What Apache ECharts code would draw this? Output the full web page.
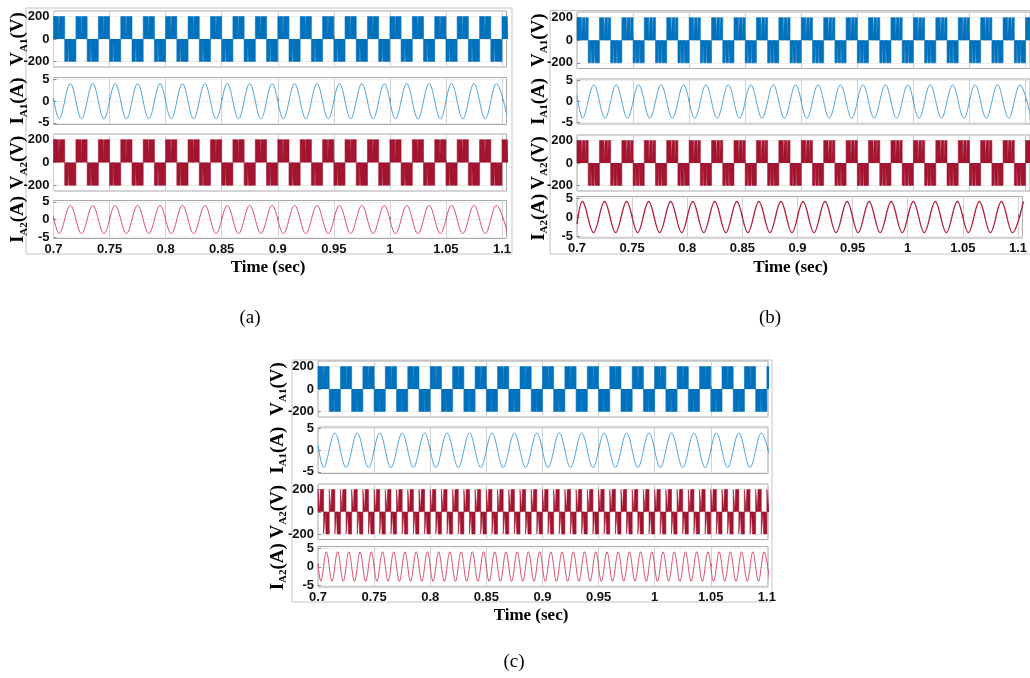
<!DOCTYPE html>
<html><head><meta charset="utf-8">
<script src="https://cdn.jsdelivr.net/npm/echarts@6/dist/echarts.min.js"></script>
<style>html,body{margin:0;padding:0;background:#fff}#c{width:1030px;height:678px}</style>
</head><body><div id="c"></div>
<script>
// ---------- tick labels ----------
const xTicks = [0.7,0.75,0.8,0.85,0.9,0.95,1,1.05,1.1];
const vTicks = [-200,0,200];
const iTicks = [-5,0,5];

// ---------- PWM voltage: half-cycle boundaries (s) ----------
const halfEdges50 = [0.70,0.71,0.72,0.73,0.74,0.75,0.76,0.77,0.78,0.79,
  0.80,0.81,0.82,0.83,0.84,0.85,0.86,0.87,0.88,0.89,
  0.90,0.91,0.92,0.93,0.94,0.95,0.96,0.97,0.98,0.99,
  1.00,1.01,1.02,1.03,1.04,1.05,1.06,1.07,1.08,1.09,1.10,1.11];
const halfEdges100 = [0.700,0.705,0.710,0.715,0.720,0.725,0.730,0.735,0.740,0.745,
  0.750,0.755,0.760,0.765,0.770,0.775,0.780,0.785,0.790,0.795,
  0.800,0.805,0.810,0.815,0.820,0.825,0.830,0.835,0.840,0.845,
  0.850,0.855,0.860,0.865,0.870,0.875,0.880,0.885,0.890,0.895,
  0.900,0.905,0.910,0.915,0.920,0.925,0.930,0.935,0.940,0.945,
  0.950,0.955,0.960,0.965,0.970,0.975,0.980,0.985,0.990,0.995,
  1.000,1.005,1.010,1.015,1.020,1.025,1.030,1.035,1.040,1.045,
  1.050,1.055,1.060,1.065,1.070,1.075,1.080,1.085,1.090,1.095,1.100,1.105];
const vLevel = [200, 200, 200, 200, 200, 200]; // a-VA1, a-VA2, b-VA1, b-VA2, c-VA1, c-VA2
// pulse pattern inside one half-cycle (fractions of the half-cycle), [start,end]
const pulsesA_pos = [[0,0.45],[0.52,1]];
const pulsesA_neg = [[0,0.3],[0.38,1]];
const pulsesB_pos = [[0,0.4],[0.5,0.72],[0.8,1]];
const pulsesB_neg = [[0,0.22],[0.3,0.52],[0.6,1]];
const pulsesC1_pos = [[0,0.5],[0.56,1]];
const pulsesC1_neg = [[0,0.45],[0.5,1]];
const pulsesC2_pos = [[0,0.3],[0.42,1]];
const pulsesC2_neg = [[0,0.3],[0.42,1]];

// ---------- currents: start point + extrema (time, value) ----------
const t50 = [0.7,0.705,0.715,0.725,0.735,0.745,0.755,0.765,0.775,0.785,0.795,
  0.805,0.815,0.825,0.835,0.845,0.855,0.865,0.875,0.885,0.895,
  0.905,0.915,0.925,0.935,0.945,0.955,0.965,0.975,0.985,0.995,
  1.005,1.015,1.025,1.035,1.045,1.055,1.065,1.075,1.085,1.095,1.105];
const t100 = [0.7,
  0.7025,0.7075,0.7125,0.7175,0.7225,0.7275,0.7325,0.7375,0.7425,0.7475,
  0.7525,0.7575,0.7625,0.7675,0.7725,0.7775,0.7825,0.7875,0.7925,0.7975,
  0.8025,0.8075,0.8125,0.8175,0.8225,0.8275,0.8325,0.8375,0.8425,0.8475,
  0.8525,0.8575,0.8625,0.8675,0.8725,0.8775,0.8825,0.8875,0.8925,0.8975,
  0.9025,0.9075,0.9125,0.9175,0.9225,0.9275,0.9325,0.9375,0.9425,0.9475,
  0.9525,0.9575,0.9625,0.9675,0.9725,0.9775,0.9825,0.9875,0.9925,0.9975,
  1.0025,1.0075,1.0125,1.0175,1.0225,1.0275,1.0325,1.0375,1.0425,1.0475,
  1.0525,1.0575,1.0625,1.0675,1.0725,1.0775,1.0825,1.0875,1.0925,1.0975,
  1.1025];
const iA1_a = [0.6,-4.1,4,-4.1,4,-4.1,4,-4.1,4,-4.1,4, -4.1,4,-4.1,4,-4.1,4,-4.1,4,-4.1,4,
  -4.1,4,-4.1,4,-4.1,4,-4.1,4,-4.1,4, -4.1,4,-4.1,4,-4.1,4,-4.1,4,-4.1,4, -4.1];
const iA2_a = [0.8,-4,4,-4,4,-4,4,-4,4,-4,4, -4,4,-4,4,-4,4,-4,4,-4,4,
  -4,4,-4,4,-4,4,-4,4,-4,4, -4,4,-4,4,-4,4,-4,4,-4,4, -4];
const iA1_b = [1.5,-4,4,-4,4,-4,4,-4,4,-4,4, -4,4,-4,4,-4,4,-4,4,-4,4,
  -4,4,-4,4,-4,4,-4,4,-4,4, -4,4,-4,4,-4,4,-4,4,-4,4, -4];
const iA2_b = [-1.8,4.1,-4,4.1,-4,4.1,-4,4.1,-4,4.1,-4, 4.1,-4,4.1,-4,4.1,-4,4.1,-4,4.1,-4,
  4.1,-4,4.1,-4,4.1,-4,4.1,-4,4.1,-4, 4.1,-4,4.1,-4,4.1,-4,4.1,-4,4.1,-4, 4.1];
const iA1_c = [1.2,-4,4,-4,4,-4,4,-4,4,-4,4, -4,4,-4,4,-4,4,-4,4,-4,4,
  -4,4,-4,4,-4,4,-4,4,-4,4, -4,4,-4,4,-4,4,-4,4,-4,4, -4];
const iA2_c = [0.8,
  -3.9,4,-3.9,4,-3.9,4,-3.9,4,-3.9,4, -3.9,4,-3.9,4,-3.9,4,-3.9,4,-3.9,4,
  -3.9,4,-3.9,4,-3.9,4,-3.9,4,-3.9,4, -3.9,4,-3.9,4,-3.9,4,-3.9,4,-3.9,4,
  -3.9,4,-3.9,4,-3.9,4,-3.9,4,-3.9,4, -3.9,4,-3.9,4,-3.9,4,-3.9,4,-3.9,4,
  -3.9,4,-3.9,4,-3.9,4,-3.9,4,-3.9,4, -3.9,4,-3.9,4,-3.9,4,-3.9,4,-3.9,4,
  -3.9];

// ---------- helpers ----------
function pwmData(edges, firstSign, posPat, negPat, level) {
  const d = [];
  for (let i = 0; i < edges.length - 1; i++) {
    const a = edges[i], b = edges[i + 1], w = b - a;
    const sign = (i % 2 === 0) ? firstSign : -firstSign;
    const pat = sign > 0 ? posPat : negPat;
    for (const p of pat) {
      const s = a + p[0] * w, e = a + p[1] * w;
      d.push([s, 0], [s, sign * level], [e, sign * level], [e, 0]);
    }
  }
  return d;
}
function zip(t, v) { return t.map((x, i) => [x, v[i]]); }

const BLUE = '#0072BD', LBLUE = '#4FA3E0', RED = '#A2142F', LRED = '#D9506C';
const serif = 'Liberation Serif', sans = 'Liberation Sans';

const panels = [
  { left: 53.5, width: 453, xMax: 1.104, gap: 24,
    rows: [
      { top: 11, height: 56, kind: 'v', sub: 'A1', color: BLUE, data: pwmData(halfEdges50, 1, pulsesA_pos, pulsesA_neg, vLevel[0]) },
      { top: 77.5, height: 47, kind: 'i', sub: 'A1', color: LBLUE, lw: 1, data: zip(t50, iA1_a) },
      { top: 134, height: 57, kind: 'v', sub: 'A2', color: RED, data: pwmData(halfEdges50, 1, pulsesA_pos, pulsesA_neg, vLevel[1]) },
      { top: 200.5, height: 38, kind: 'i', sub: 'A2', color: LRED, lw: 1, data: zip(t50, iA2_a) }
    ]},
  { left: 577, width: 453, xMax: 1.104, gap: 27,
    rows: [
      { top: 12, height: 56.5, kind: 'v', sub: 'A1', color: BLUE, data: pwmData(halfEdges50, 1, pulsesB_pos, pulsesB_neg, vLevel[2]) },
      { top: 79, height: 45, kind: 'i', sub: 'A1', color: LBLUE, lw: 1, data: zip(t50, iA1_b) },
      { top: 135, height: 56, kind: 'v', sub: 'A2', color: RED, data: pwmData(halfEdges50, 1, pulsesB_pos, pulsesB_neg, vLevel[3]) },
      { top: 196.5, height: 41.5, kind: 'i', sub: 'A2', color: '#B01E3C', lw: 1.3, data: zip(t50, iA2_b) }
    ]},
  { left: 318, width: 450, xMax: 1.101, gap: 29,
    rows: [
      { top: 361, height: 56, kind: 'v', sub: 'A1', color: BLUE, data: pwmData(halfEdges50, 1, pulsesC1_pos, pulsesC1_neg, vLevel[4]) },
      { top: 427, height: 46.5, kind: 'i', sub: 'A1', color: LBLUE, lw: 1, data: zip(t50, iA1_c) },
      { top: 484, height: 55.5, kind: 'v', sub: 'A2', color: RED, data: pwmData(halfEdges100, 1, pulsesC2_pos, pulsesC2_neg, vLevel[5]) },
      { top: 546.5, height: 40.5, kind: 'i', sub: 'A2', color: LRED, lw: 1, data: zip(t100, iA2_c) }
    ]}
];

const grid = [], xAxis = [], yAxis = [], series = [];
panels.forEach((p) => {
  p.rows.forEach((r, ri) => {
    const gi = grid.length;
    grid.push({ left: p.left, width: p.width, top: r.top, height: r.height, show: true,
      borderColor: '#a8a8a8', borderWidth: 1, backgroundColor: 'transparent', containLabel: false });
    const isBottom = ri === p.rows.length - 1;
    xAxis.push({ gridIndex: gi, type: 'value', min: 0.7, max: p.xMax,
      axisLine: { show: false },
      axisTick: { show: true, inside: true, length: 3, customValues: xTicks, lineStyle: { color: '#8a8a8a' } },
      axisLabel: { show: isBottom, customValues: xTicks, margin: 4, fontFamily: sans, fontWeight: 'bold',
        fontSize: 13, color: '#111', formatter: v => String(+(+v).toFixed(2)) },
      splitLine: { show: true, lineStyle: { color: '#d2d2d2', width: 1 } } });
    const isV = r.kind === 'v';
    yAxis.push({ gridIndex: gi, type: 'value', min: isV ? -250 : -5.4, max: isV ? 250 : 5.4,
      axisLine: { show: false },
      axisTick: { show: true, inside: true, length: 3, customValues: isV ? vTicks : iTicks, lineStyle: { color: '#8a8a8a' } },
      axisLabel: { customValues: isV ? vTicks : iTicks, margin: 4, fontFamily: sans, fontWeight: 'bold',
        fontSize: 13, color: '#111', formatter: v => String(Math.round(v)) },
      splitLine: { show: true, lineStyle: { color: '#ededed', width: 1 } },
      name: isV ? '{m|V}{s|' + r.sub + '}{m|(V)}' : '{m|I}{s|' + r.sub + '}{m|(A)}',
      nameLocation: 'middle', nameRotate: 90, nameGap: p.gap, nameMoveOverlap: false,
      nameTextStyle: { rich: {
        m: { fontFamily: serif, fontWeight: 'bold', fontSize: 19, lineHeight: 22, color: '#000' },
        s: { fontFamily: serif, fontWeight: 'bold', fontSize: 11, color: '#000', verticalAlign: 'bottom' } } } });
    if (isV) {
      series.push({ type: 'line', xAxisIndex: gi, yAxisIndex: gi, data: r.data, showSymbol: false,
        symbol: 'none', lineStyle: { color: r.color, width: 0.6 }, areaStyle: { color: r.color, opacity: 1 },
        clip: true, silent: true });
    } else {
      series.push({ type: 'line', xAxisIndex: gi, yAxisIndex: gi, data: r.data, showSymbol: false,
        symbol: 'none', smooth: 0.36, lineStyle: { color: r.color, width: r.lw }, clip: true, silent: true });
    }
  });
});

const graphic = [
  { type: 'rect', shape: { x: 26, y: 8, width: 486, height: 246 }, style: { fill: 'none', stroke: '#c4c4c4', lineWidth: 1 }, z: -1 },
  { type: 'rect', shape: { x: 550, y: 10.5, width: 485, height: 243.5 }, style: { fill: 'none', stroke: '#c4c4c4', lineWidth: 1 }, z: -1 },
  { type: 'rect', shape: { x: 292, y: 360, width: 480, height: 242 }, style: { fill: 'none', stroke: '#c4c4c4', lineWidth: 1 }, z: -1 },
  { type: 'text', x: 268, y: 267.5, style: { text: 'Time (sec)', fontFamily: serif, fontWeight: 'bold', fontSize: 17, fill: '#000', textAlign: 'center', textVerticalAlign: 'middle' } },
  { type: 'text', x: 790.5, y: 268, style: { text: 'Time (sec)', fontFamily: serif, fontWeight: 'bold', fontSize: 17, fill: '#000', textAlign: 'center', textVerticalAlign: 'middle' } },
  { type: 'text', x: 531, y: 616, style: { text: 'Time (sec)', fontFamily: serif, fontWeight: 'bold', fontSize: 17, fill: '#000', textAlign: 'center', textVerticalAlign: 'middle' } },
  { type: 'text', x: 250, y: 318, style: { text: '(a)', fontFamily: serif, fontSize: 19, fill: '#000', textAlign: 'center', textVerticalAlign: 'middle' } },
  { type: 'text', x: 770, y: 318, style: { text: '(b)', fontFamily: serif, fontSize: 19, fill: '#000', textAlign: 'center', textVerticalAlign: 'middle' } },
  { type: 'text', x: 514, y: 662, style: { text: '(c)', fontFamily: serif, fontSize: 19, fill: '#000', textAlign: 'center', textVerticalAlign: 'middle' } }
];

const chart = echarts.init(document.getElementById('c'), null, { renderer: 'canvas' });
chart.setOption({ animation: false, backgroundColor: '#fff', grid, xAxis, yAxis, series, graphic });
</script></body></html>
